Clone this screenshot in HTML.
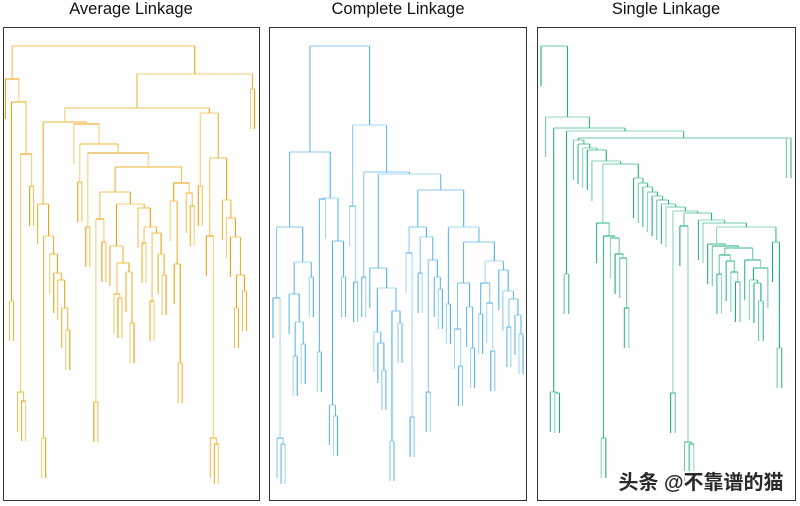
<!DOCTYPE html>
<html><head><meta charset="utf-8">
<style>
body{margin:0;background:#fff;width:800px;height:506px;overflow:hidden;font-family:"Liberation Sans",sans-serif}
svg{position:absolute;left:0;top:0}
</style></head>
<body>
<svg id="chart" width="800" height="506">
<text x="131" y="14" text-anchor="middle" font-size="16.5" fill="#111">Average Linkage</text>
<text x="398" y="14" text-anchor="middle" font-size="16.5" fill="#111">Complete Linkage</text>
<text x="666" y="14" text-anchor="middle" font-size="16.5" fill="#111">Single Linkage</text>
<rect x="3.5" y="27.5" width="256" height="473" fill="none" stroke="#333"/>
<rect x="269.5" y="27.5" width="257" height="473" fill="none" stroke="#333"/>
<rect x="537.5" y="27.5" width="258" height="473" fill="none" stroke="#333"/>
<g id="g-avg"></g>
<g id="g-comp"></g>
<g id="g-single"></g>
<text x="701" y="489" text-anchor="middle" font-size="20" font-weight="bold" fill="#2a2a2a" stroke="#fff" stroke-width="4" paint-order="stroke" font-family="'Liberation Sans','Noto Sans CJK SC',sans-serif">头条 @不靠谱的猫</text>
</svg>
<script>
// merge heights (units); 0 = leaf
const avgTree = [45.4,
  [42.1, 0, [39.8, [19.9,0,0], [34.6, [10.8,0,[9.9,0,0]], [31.4,0,0]]]],
  [42.6,
    [39.2,
      [37.8,
        [29.6, 0, [26.4,[6.2,0,0],[24.6,0,[22.7,0,[22.0,0,[19.2,0,[17.0,0,0]]]]]]],
        [37.6, 0, [35.6,[31.8,0,0],[34.7,[27.3,0,0],[33.3,
          [30.8, [28.1,[9.8,0,0],[25.8,0,0]], [29.6,
            [25.4,0,[23.7,[20.6,0,[20.2,0,0]],[22.8,0,[17.7,0,0]]]],
            [29.2,0,[27.3,[25.7,0,0],[26.7,[19.9,0,0],[24.6,0,[22.5,0,0]]]]]]],
          [31.7,[29.9,0,[23.6,0,[13.7,0,0]]],[30.7,0,[29.4,0,0]]]]]]]],
      [38.7,[31.4,0,0],[34.2,[26.4,0,[6.2,0,[5.6,0,0]]],[30.0,0,[28.2,0,[26.3,0,[22.5,[19.2,0,0],[20.9,0,0]]]]]]]],
    [41.1,0,0]]];

const completeTree = [45.4,
  [34.8,
    [27.3, [20.2,0,[6.2,0,[5.6,0,0]]], [23.8,[20.6,0,[17.8,[14.4,0,0],[15.6,0,0]]],[22.3,0,0]]],
    [30.2,[30.1,[14.8,0,0],0],[25.9,[9.5,0,[8.4,0,0]],[22.3,0,0]]]],
  [37.5,[29.4,0,[21.8,0,0]], [32.8,[22.3,0,0],[32.6,
    [23.2,0,[21.2,[16.8,0,[15.7,0,[13.0,0,0]]],[18.9,[5.9,0,0],[17.7,0,0]]]],
    [31.0,
      [27.3,[24.7,0,[8.3,0,0]],[26.3,[22.7,0,0],[24.0,[10.8,0,0],[22.3,0,[21.1,0,0]]]]],
      [27.3,[19.6,0,0],[25.8,
        [21.7,[17.1,0,[13.4,0,0]],[19.3,0,[15.2,0,0]]],
        [23.9,[21.7,[18.6,0,0],[19.7,0,[14.9,0,0]]],[23.0,0,[20.9,0,[20.1,[17.3,0,0],[18.5,0,[16.6,0,0]]]]]]]]]]]]];

const singleTree = [45.4, 0,
  [38.3, 0, [37.2, [10.8,0,[10.7,0,0]], [36.9,[22.6,0,0],[36.2,
    [36.0,0,[35.6,0,[35.2,0,[35.0,0,[33.9,0,[33.6,
      [27.7,0,[26.4,[6.2,0,0],[26.2,0,[24.6,0,[24.2,0,[19.2,0,0]]]]]],
      [32.2,0,[31.7,0,[31.3,0,[30.8,0,[30.4,0,[30.0,0,[29.6,0,[29.3,0,[28.9,[10.7,0,0],[28.7,
        [27.4,0,[5.8,0,[5.6,0,0]]],
        [28.0,0,[27.7,0,[27.3,
          [25.6,0,[25.4,0,[25.2,
            [24.5,[22.6,0,0],[23.9,0,[22.8,0,[21.8,0,0]]]],
            [24.0,0,[23.2,[22.0,0,[21.7,0,[19.9,0,0]]],0]]]]],
          [25.8,0,[15.2,0,0]]]]]]]]]]]]]]]]]]]]],
    [36.2,0,0]]]]]];

const HANG = 4; // leaf hang, units
const NS = "http://www.w3.org/2000/svg";
function yScale(h){ return 500 - h*10; }

function countLeaves(n){ return n===0 ? 1 : countLeaves(n[1]) + countLeaves(n[2]); }

function draw(tree, gid, x0, x1, colors, name){
  const g = document.getElementById(gid);
  const nLeaves = countLeaves(tree);
  const step = (x1 - x0) / (nLeaves - 1);
  let idx = 0, seg = 0;
  function line(xa, ya, xb, yb){
    const l = document.createElementNS(NS, "line");
    l.setAttribute("x1", xa); l.setAttribute("y1", ya);
    l.setAttribute("x2", xb); l.setAttribute("y2", yb);
    l.setAttribute("stroke", colors[seg % colors.length]);
    l.setAttribute("stroke-width", "1.1");
    
    
    seg++;
    g.appendChild(l);
  }
  function layout(n, parentH){
    if (n === 0){
      const x = x0 + step * (idx++);
      line(x, yScale(parentH), x, yScale(parentH - HANG));
      return x;
    }
    const h = n[0];
    const xl = layout(n[1], h);
    const xr = layout(n[2], h);
    line(xl, yScale(h), xr, yScale(h));
    const xm = (xl + xr) / 2;
    if (parentH !== null) line(xm, yScale(parentH), xm, yScale(h));
    return xm;
  }
  layout(tree, null);
}
draw(avgTree, "g-avg", 5.5, 254.5, ["#E8A20E","#F2C25A","#EDB230","#F5CF7A"], "average");
draw(completeTree, "g-comp", 273, 523, ["#4FB0E6","#8ACBEF","#62B9EA","#A6D8F3"], "complete");
draw(singleTree, "g-single", 541, 791, ["#1DAE80","#6FCBAA","#36B98E","#8FD6BC"], "single");
</script>
</body></html>
